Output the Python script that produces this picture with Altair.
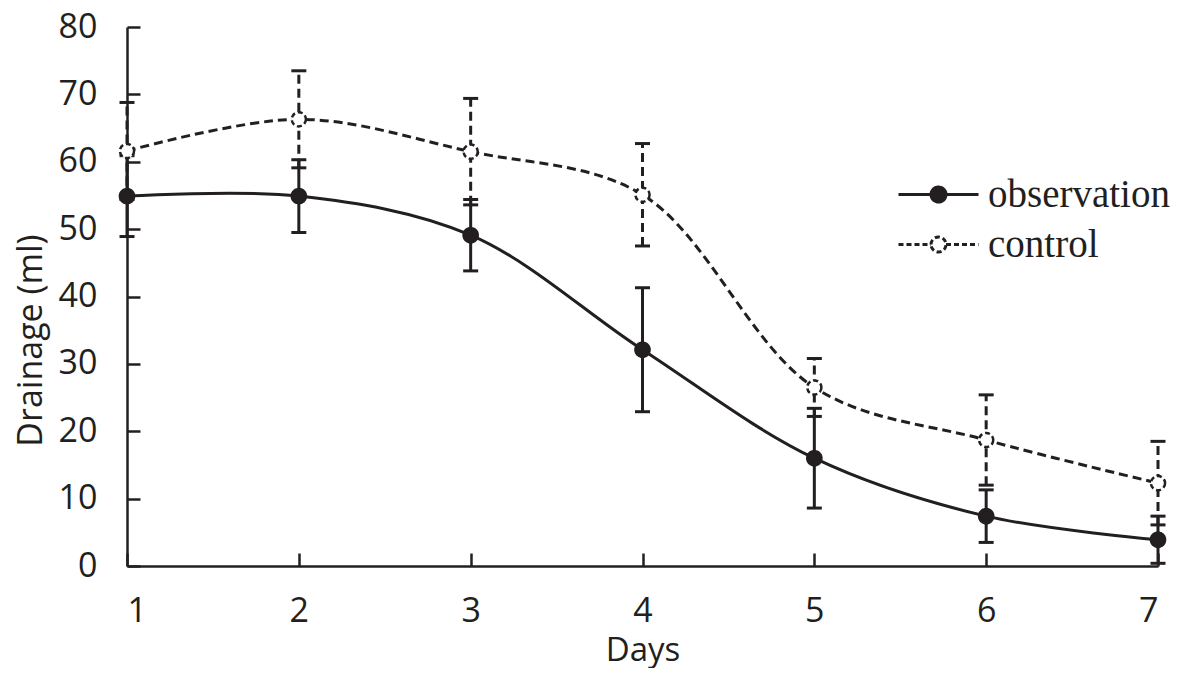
import altair as alt
import pandas as pd

days = [1, 2, 3, 4, 5, 6, 7]
obs_mean = [54.9, 54.9, 49.1, 32.1, 16.0, 7.4, 3.9]
obs_err = [6.0, 5.4, 5.3, 9.2, 7.4, 3.9, 3.5]
ctrl_mean = [61.6, 66.3, 61.5, 55.1, 26.5, 18.7, 12.3]
ctrl_err = [7.2, 7.2, 7.9, 7.6, 4.3, 6.7, 6.2]
series = ["observation", "control"]
y_ticks = [0, 10, 20, 30, 40, 50, 60, 70, 80]

rows = []
for d, m, e in zip(days, obs_mean, obs_err):
    rows.append({"day": d, "mean": m, "lo": m - e, "hi": m + e, "series": "observation"})
for d, m, e in zip(days, ctrl_mean, ctrl_err):
    rows.append({"day": d, "mean": m, "lo": m - e, "hi": m + e, "series": "control"})
df = pd.DataFrame(rows)

INK = "#231f20"
W, H = 1031, 539
FONT = "Open Sans"

xscale = alt.Scale(domain=[1, 7], nice=False, zero=False)
yscale = alt.Scale(domain=[0, 80], nice=False)

x_main = alt.X("day:Q", scale=xscale, title="Days",
               axis=alt.Axis(values=days, format="d", tickSize=alt.ExprRef("-13"),
                             tickWidth=2.5, tickColor=INK, labelPadding=41,
                             labelFontSize=34, labelFont=FONT, labelColor=INK,
                             titleFontSize=33, titleFont=FONT, titleColor=INK,
                             titleFontWeight="normal", titleY=84, titleBaseline="middle",
                             domainColor=INK, domainWidth=2.5, grid=False))
y_main = alt.Y("mean:Q", scale=yscale, title="Drainage (ml)",
               axis=alt.Axis(values=y_ticks, tickSize=alt.ExprRef("-13"),
                             tickWidth=2.5, tickColor=INK, labelPadding=43,
                             labelFontSize=34, labelFont=FONT, labelColor=INK,
                             labelBaseline="middle",
                             titleFontSize=34, titleFont=FONT, titleColor=INK,
                             titleFontWeight="normal", titleX=-96, titleY=313,
                             titleAlign="center", titleBaseline="middle",
                             domainColor=INK, domainWidth=2.5, grid=False))

legend_path = ("M-2,0H-0.375M0.375,0H2M-0.375,0A0.375,0.375,0,1,1,0.375,0"
               "A0.375,0.375,0,1,1,-0.375,0Z")

x_plain = alt.X("day:Q", scale=xscale)
y_mean = alt.Y("mean:Q", scale=yscale)

obs_line = alt.Chart(df).transform_filter(alt.datum.series == "observation").mark_line(
    interpolate="catmull-rom", strokeWidth=3, color=INK).encode(x=x_main, y=y_main)
ctrl_line = alt.Chart(df).transform_filter(alt.datum.series == "control").mark_line(
    interpolate="catmull-rom", strokeWidth=3, color=INK, strokeDash=[9, 5]).encode(
    x=x_plain, y=y_mean)

obs_bars = alt.Chart(df).transform_filter(alt.datum.series == "observation").mark_rule(
    strokeWidth=3, color=INK).encode(
    x=x_plain, y=alt.Y("lo:Q", scale=yscale), y2="hi:Q")
ctrl_bars = alt.Chart(df).transform_filter(alt.datum.series == "control").mark_rule(
    strokeWidth=3, color=INK, strokeDash=[9, 5]).encode(
    x=x_plain, y=alt.Y("lo:Q", scale=yscale), y2="hi:Q")

caps_lo = alt.Chart(df).mark_tick(orient="horizontal", size=15, thickness=3, color=INK,
                                  opacity=1).encode(
    x=x_plain, y=alt.Y("lo:Q", scale=yscale))
caps_hi = alt.Chart(df).mark_tick(orient="horizontal", size=15, thickness=3, color=INK,
                                  opacity=1).encode(
    x=x_plain, y=alt.Y("hi:Q", scale=yscale))

leg = alt.Legend(
    title=None, orient="none", legendX=790, legendY=146,
    symbolType=legend_path, symbolSize=1600, symbolStrokeWidth=3,
    symbolOpacity=1, labelFont="Liberation Serif", labelFontSize=39,
    labelColor=INK, labelOffset=28, rowPadding=8, padding=0, labelLimit=400,
)
points = alt.Chart(df).mark_point(
    size=200, strokeWidth=2.5, opacity=1, fillOpacity=1).encode(
    x=x_plain, y=y_mean,
    fill=alt.Fill("series:N", scale=alt.Scale(domain=series, range=[INK, "white"]), legend=leg),
    stroke=alt.Stroke("series:N", scale=alt.Scale(domain=series, range=[INK, INK]), legend=leg),
    strokeDash=alt.StrokeDash("series:N", scale=alt.Scale(domain=series, range=[[1, 0], [5, 3]]),
                              legend=leg),
)

chart = alt.layer(obs_line, ctrl_line, obs_bars, ctrl_bars, caps_lo, caps_hi, points).properties(
    width=W, height=H,
    autosize=alt.AutoSizeParams(type="none"),
    padding={"left": 119, "top": 19, "right": 18, "bottom": 102},
).configure_view(stroke=None, clip=False)

chart.save("out.html", embed_options={"renderer": "svg", "actions": False})
